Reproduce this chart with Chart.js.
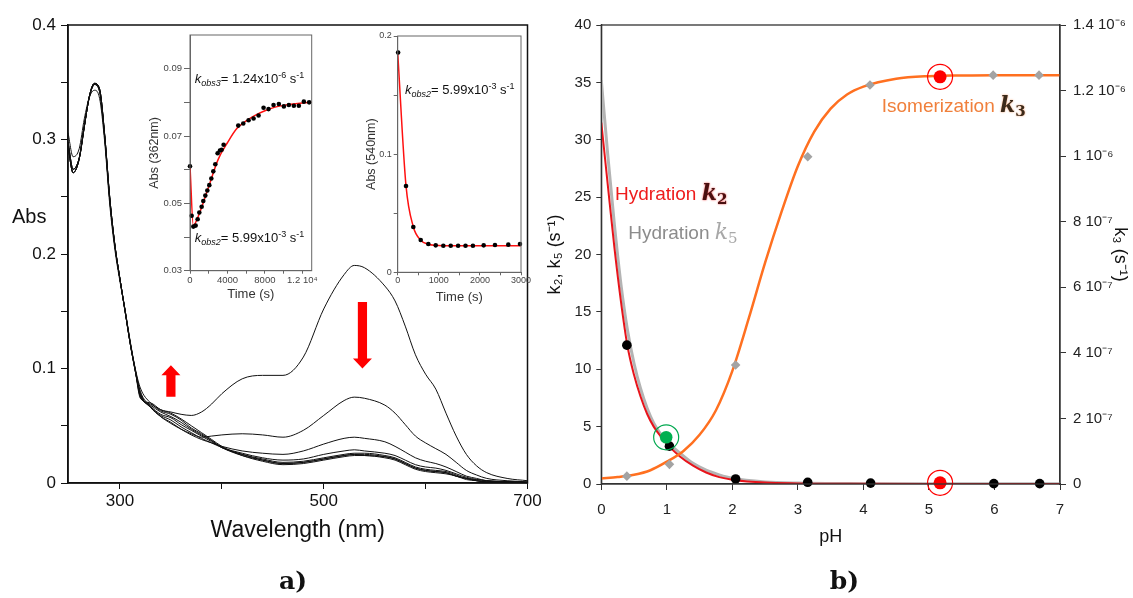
<!DOCTYPE html>
<html>
<head>
<meta charset="utf-8">
<script src="https://cdn.jsdelivr.net/npm/chart.js@4.4.1/dist/chart.umd.min.js"></script>
<style>
  body { margin: 0; background: #fff; width: 1133px; height: 598px; position: relative; overflow: hidden; }
  canvas { position: absolute; }
</style>
</head>
<body>
<canvas id="spectra" width="560" height="598" style="left:0px;top:0px"></canvas>
<canvas id="inset362" width="190" height="290" style="left:140px;top:20px"></canvas>
<canvas id="inset540" width="200" height="290" style="left:340px;top:20px"></canvas>
<canvas id="phChart" width="593" height="598" style="left:540px;top:0px"></canvas>
<script>
'use strict';

// ---- a) spectra ----
var wavelengths = [249, 254, 260, 265, 270, 275, 280, 285, 290, 295, 300, 305, 310, 315,
  320, 330, 340, 350, 360, 370, 380, 390, 400, 420, 440, 460, 480, 500, 520, 530, 540,
  560, 570, 580, 590, 600, 610, 620, 630, 640, 650, 660, 680, 700];

// UV part (249-315 nm)
var uvA = [0.306, 0.285, 0.292, 0.318, 0.337, 0.343, 0.336, 0.298, 0.243, 0.204, 0.176, 0.151, 0.124, 0.100];
var uvB = [0.298, 0.274, 0.284, 0.312, 0.337, 0.348, 0.342, 0.302, 0.247, 0.207, 0.178, 0.151, 0.123, 0.099];
var uvC = [0.294, 0.271, 0.283, 0.311, 0.338, 0.349, 0.344, 0.304, 0.249, 0.208, 0.178, 0.150, 0.122, 0.098];

// visible part (320-700 nm)
var visA = [0.083, 0.070, 0.064, 0.062, 0.060, 0.059, 0.062, 0.069, 0.078, 0.091, 0.094, 0.094, 0.110, 0.152, 0.182, 0.190, 0.188, 0.172, 0.159, 0.137, 0.112, 0.095, 0.082, 0.061, 0.041, 0.025, 0.015, 0.009, 0.004, 0.002];
var visB = [0.080, 0.067, 0.058, 0.052, 0.047, 0.043, 0.040, 0.041, 0.042, 0.043, 0.042, 0.040, 0.046, 0.059, 0.072, 0.075, 0.074, 0.068, 0.061, 0.051, 0.041, 0.035, 0.030, 0.025, 0.018, 0.011, 0.007, 0.004, 0.002, 0.001];
var visC = [0.079, 0.066, 0.058, 0.053, 0.047, 0.042, 0.038, 0.035, 0.032, 0.028, 0.026, 0.025, 0.028, 0.034, 0.039, 0.040, 0.039, 0.036, 0.032, 0.027, 0.022, 0.019, 0.017, 0.014, 0.010, 0.006, 0.004, 0.002, 0.001, 0.0005];
var visD = [0.078, 0.066, 0.059, 0.055, 0.049, 0.044, 0.039, 0.035, 0.031, 0.026, 0.022, 0.020, 0.021, 0.025, 0.028, 0.029, 0.028, 0.026, 0.024, 0.020, 0.016, 0.014, 0.013, 0.011, 0.008, 0.005, 0.003, 0.002, 0.001, 0.0005];
var visE = [0.077, 0.067, 0.060, 0.057, 0.051, 0.046, 0.041, 0.036, 0.031, 0.025, 0.021, 0.018, 0.019, 0.022, 0.025, 0.026, 0.026, 0.024, 0.022, 0.018, 0.014, 0.012, 0.011, 0.010, 0.007, 0.004, 0.003, 0.002, 0.001, 0.0005];
var visF = [0.076, 0.068, 0.062, 0.058, 0.053, 0.047, 0.042, 0.037, 0.031, 0.025, 0.020, 0.017, 0.018, 0.021, 0.024, 0.025, 0.025, 0.023, 0.021, 0.017, 0.013, 0.011, 0.010, 0.009, 0.006, 0.004, 0.002, 0.001, 0.001, 0.0005];
var visG = [0.075, 0.069, 0.063, 0.060, 0.055, 0.048, 0.043, 0.037, 0.031, 0.024, 0.020, 0.017, 0.018, 0.021, 0.024, 0.025, 0.024, 0.023, 0.021, 0.017, 0.013, 0.011, 0.010, 0.009, 0.006, 0.004, 0.002, 0.001, 0.001, 0.0005];
var visH = [0.074, 0.070, 0.064, 0.061, 0.056, 0.050, 0.044, 0.038, 0.032, 0.024, 0.019, 0.016, 0.017, 0.020, 0.023, 0.024, 0.024, 0.022, 0.020, 0.016, 0.012, 0.010, 0.009, 0.008, 0.006, 0.003, 0.002, 0.001, 0.001, 0.0005];

var spectra = [uvA.concat(visA), uvB.concat(visB), uvB.concat(visC), uvC.concat(visD),
  uvC.concat(visE), uvC.concat(visF), uvB.concat(visG), uvC.concat(visH)];

var wlTicks = [300, 400, 500, 600, 700];
var absTicks = [0, 0.05, 0.1, 0.15, 0.2, 0.25, 0.3, 0.35, 0.4];

// ---- insets ----
var t362 = [0, 178, 356, 604, 818, 996, 1244, 1422, 1636, 1849, 2062, 2276, 2489, 2702, 2951, 3200, 3378, 3591,
  5156, 5689, 6258, 6791, 7324, 7858, 8391, 8924, 9493, 10027, 10560, 11093, 11627, 12160, 12729];
var a362 = [0.0610, 0.0463, 0.0431, 0.0434, 0.0453, 0.0473, 0.0490, 0.0507, 0.0523, 0.0538, 0.0554, 0.0574, 0.0595,
  0.0616, 0.0649, 0.0657, 0.0659, 0.0674, 0.0731, 0.0737, 0.0747, 0.0752, 0.0761, 0.0784, 0.0780, 0.0792, 0.0795,
  0.0788, 0.0792, 0.0790, 0.0790, 0.0802, 0.0800];
var t362Fit = [0, 350, 1000, 2000, 3000, 4000, 5000, 6000, 7000, 8000, 9000, 10000, 11000, 12000, 13000];
var a362Fit = [0.0610, 0.0435, 0.0470, 0.0550, 0.0630, 0.0680, 0.0722, 0.0745, 0.0762, 0.0775, 0.0785, 0.0791, 0.0795, 0.0798, 0.0800];

var t540 = [10, 202, 380, 560, 745, 925, 1110, 1290, 1470, 1650, 1830, 2092, 2367, 2691, 2975];
var a540 = [0.186, 0.073, 0.0383, 0.0273, 0.0240, 0.0228, 0.0225, 0.0225, 0.0225, 0.0225, 0.0225, 0.0228, 0.0231, 0.0234, 0.0240];
var t540Fit = [0, 200, 380, 560, 745, 925, 1110, 1500, 2000, 2500, 3000];
var a540Fit = [0.186, 0.074, 0.0385, 0.0272, 0.0238, 0.0228, 0.0225, 0.0224, 0.0224, 0.0224, 0.0224];

// ---- b) pH dependence ----
var pHFit = [0, 0.1, 0.2, 0.3, 0.4, 0.5, 0.6, 0.7, 0.8, 0.9, 1.0, 1.2, 1.4, 1.6, 1.8, 2.0, 2.5, 3.0, 4.0, 5.0, 6.0, 7.0];
var k2Fit = [31.5, 26.0, 20.6, 15.9, 12.0, 9.5, 7.6, 6.1, 5.0, 4.2, 3.5, 2.4, 1.6, 1.0, 0.6, 0.38, 0.12, 0.05, 0.02, 0.01, 0.01, 0.01];
var k5Fit = [35.2, 28.6, 22.6, 17.4, 13.4, 10.5, 8.3, 6.6, 5.3, 4.4, 3.7, 2.7, 1.8, 1.2, 0.8, 0.5, 0.18, 0.08, 0.03, 0.02, 0.02, 0.02];
var pHFitK3 = [0, 0.25, 0.5, 0.75, 1, 1.25, 1.5, 1.75, 2, 2.25, 2.5, 2.75, 3, 3.25, 3.5, 3.75, 4, 4.5, 5, 5.5, 6, 7];
var k3Fit = [0.17e-7, 0.21e-7, 0.28e-7, 0.42e-7, 0.68e-7, 1.00e-7, 1.50e-7, 2.25e-7, 3.45e-7, 5.05e-7, 6.75e-7, 8.30e-7,
  9.70e-7, 10.75e-7, 11.45e-7, 11.88e-7, 12.12e-7, 12.36e-7, 12.44e-7, 12.46e-7, 12.47e-7, 12.47e-7];

var pHK2 = [0.39, 1.04, 2.05, 3.15, 4.11, 5.99, 6.69];
var k2Data = [12.1, 3.3, 0.44, 0.15, 0.08, 0.03, 0.03];
var pHK3 = [0.39, 1.04, 2.05, 3.15, 4.10, 5.98, 6.68];
var k3Data = [0.24e-7, 0.60e-7, 3.63e-7, 9.98e-7, 12.17e-7, 12.47e-7, 12.47e-7];
var greenPoint = [{x: 0.99, y: 4.07}];
var redPointK2 = [{x: 5.17, y: 0.1}];
var redPointK3 = [{x: 5.17, y: 12.42e-7}];

var pHTicks = [0, 1, 2, 3, 4, 5, 6, 7];
var kTicks = [0, 5, 10, 15, 20, 25, 30, 35, 40];
var k3Ticks = [0, 2e-7, 4e-7, 6e-7, 8e-7, 10e-7, 12e-7, 14e-7];
var k3TickLabels = ['0', '2 10\u207B\u2077', '4 10\u207B\u2077', '6 10\u207B\u2077', '8 10\u207B\u2077',
  '1 10\u207B\u2076', '1.2 10\u207B\u2076', '1.4 10\u207B\u2076'];

// ---- common setup ----
var SANS = "'Liberation Sans', Arial, sans-serif";
var SERIF = "'DejaVu Serif', serif";
Chart.defaults.font.family = SANS;
Chart.defaults.color = '#111';
Chart.defaults.animation = false;
Chart.defaults.events = [];
Chart.defaults.plugins.legend.display = false;
Chart.defaults.plugins.tooltip.enabled = false;

var toPoints = function(xs, ys) {
  return xs.map(function(x, i) { return {x: x, y: ys[i]}; });
};
var fixedTicks = function(list) {
  return function(scale) { scale.ticks = list.map(function(v) { return {value: v}; }); };
};
var fixedSize = function(size) {
  return function(scale) {
    if (scale.isHorizontal()) { scale.height = size; } else { scale.width = size; }
  };
};
var framePlugin = function(color, width) {
  return {
    id: 'frame',
    afterDatasetsDraw: function(chart) {
      var a = chart.chartArea, ctx = chart.ctx;
      ctx.save();
      ctx.strokeStyle = color;
      ctx.lineWidth = width;
      ctx.strokeRect(a.left, a.top, a.right - a.left, a.bottom - a.top);
      ctx.restore();
    }
  };
};
// draw a line of text made of runs with their own font / offset
var drawRuns = function(ctx, x, y, runs) {
  ctx.save();
  ctx.textAlign = 'left';
  ctx.textBaseline = 'alphabetic';
  runs.forEach(function(r) {
    ctx.font = r.f;
    ctx.fillStyle = r.c;
    if (r.glow) { ctx.shadowColor = r.glow; ctx.shadowBlur = 2; } else { ctx.shadowBlur = 0; ctx.shadowColor = 'rgba(0,0,0,0)'; }
    ctx.fillText(r.t, x, y + (r.dy || 0));
    x += ctx.measureText(r.t).width;
  });
  ctx.restore();
};
var kobsRuns = function(sub, value, exp) {
  var big = '13px ' + SANS, small = '9px ' + SANS;
  return [
    {t: 'k', f: 'italic ' + big, c: '#111'},
    {t: sub, f: 'italic ' + small, c: '#111', dy: 3},
    {t: '= ' + value, f: big, c: '#111'},
    {t: exp, f: small, c: '#111', dy: -5},
    {t: ' s', f: big, c: '#111'},
    {t: '-1', f: small, c: '#111', dy: -5}
  ];
};

// ---- a) main spectra chart ----
var arrowUp = {nm: 350, from: 0.0754, to: 0.1028};
var arrowDown = {nm: 538, from: 0.158, to: 0.100};
var drawArrow = function(ctx, x, yFrom, yTo) {
  var dir = yTo > yFrom ? 1 : -1, head = 10, sw = 4.6, hw = 9.5, yb = yTo - dir * head;
  ctx.beginPath();
  ctx.moveTo(x - sw, yFrom); ctx.lineTo(x + sw, yFrom); ctx.lineTo(x + sw, yb);
  ctx.lineTo(x + hw, yb); ctx.lineTo(x, yTo); ctx.lineTo(x - hw, yb); ctx.lineTo(x - sw, yb);
  ctx.closePath();
  ctx.fillStyle = '#ff0000';
  ctx.fill();
};

new Chart(document.getElementById('spectra'), {
  type: 'line',
  data: {
    datasets: spectra.map(function(s) {
      return {data: toPoints(wavelengths, s), borderColor: '#111', borderWidth: 1, pointRadius: 0,
        cubicInterpolationMode: 'monotone', fill: false};
    })
  },
  options: {
    responsive: false,
    layout: {padding: {left: 0, top: 25, right: 32.5, bottom: 54}},
    scales: {
      x: {
        type: 'linear', min: 249, max: 700,
        afterBuildTicks: fixedTicks(wlTicks),
        afterFit: fixedSize(61),
        ticks: {autoSkip: false, maxRotation: 0, padding: 2, color: '#111', font: {size: 17},
          callback: function(v) { return v % 200 === 100 ? String(v) : ''; }},
        grid: {drawOnChartArea: false, tickLength: 6, color: '#111'},
        border: {color: '#111', width: 1.5},
        title: {display: true, text: 'Wavelength (nm)', color: '#111', font: {size: 23}, padding: {top: 0, bottom: 0}}
      },
      y: {
        min: 0, max: 0.4,
        afterBuildTicks: fixedTicks(absTicks),
        afterFit: fixedSize(68),
        ticks: {autoSkip: false, padding: 5, color: '#111', font: {size: 17},
          callback: function(v) { return Math.round(v * 100) % 10 === 0 ? String(+v.toFixed(1)) : ''; }},
        grid: {drawOnChartArea: false, tickLength: 7, color: '#111'},
        border: {color: '#111', width: 1.5}
      }
    }
  },
  plugins: [framePlugin('#111', 1.5), {
    id: 'spectraNotes',
    afterDraw: function(chart) {
      var ctx = chart.ctx, xs = chart.scales.x, ys = chart.scales.y;
      [arrowUp, arrowDown].forEach(function(a) {
        drawArrow(ctx, xs.getPixelForValue(a.nm), ys.getPixelForValue(a.from), ys.getPixelForValue(a.to));
      });
      ctx.save();
      ctx.fillStyle = '#111';
      ctx.textBaseline = 'middle';
      ctx.textAlign = 'left';
      ctx.font = '20px ' + SANS;
      ctx.fillText('Abs', 12, ys.getPixelForValue(0.2315));
      ctx.textAlign = 'center';
      ctx.font = 'bold 25px ' + SERIF;
      ctx.fillText('a)', 293, 582);
      ctx.restore();
    }
  }]
});

// ---- insets ----
var insetOptions = function(cfg) {
  return {
    responsive: false,
    layout: {padding: cfg.padding},
    scales: {
      x: {
        type: 'linear', min: 0, max: cfg.xMax,
        afterBuildTicks: fixedTicks(cfg.xTicks),
        afterFit: fixedSize(cfg.xHeight),
        ticks: {autoSkip: false, maxRotation: 0, padding: cfg.xPad, color: '#444', font: {size: cfg.tickSize},
          callback: cfg.xLabel},
        grid: {drawOnChartArea: false, tickLength: 3, color: '#666'},
        border: {color: '#666'},
        title: {display: true, text: 'Time (s)', color: '#333', font: {size: 13}, padding: {top: 0, bottom: 0}}
      },
      y: {
        min: cfg.yMin, max: cfg.yMax,
        afterBuildTicks: fixedTicks(cfg.yTicks),
        afterFit: fixedSize(cfg.yWidth),
        ticks: {autoSkip: false, padding: cfg.yPad, color: '#444', font: {size: cfg.tickSize},
          callback: cfg.yLabel},
        grid: {drawOnChartArea: false, tickLength: cfg.yTickLen, color: '#666'},
        border: {color: '#666'},
        title: {display: true, text: cfg.yTitle, color: '#333', font: {size: 12.5}, padding: {top: 7, bottom: 0}}
      }
    }
  };
};

new Chart(document.getElementById('inset362'), {
  type: 'line',
  data: {
    datasets: [
      {data: toPoints(t362, a362), showLine: false, pointRadius: 2.3, pointBackgroundColor: '#000',
        pointBorderWidth: 0, clip: false, order: 0},
      {data: toPoints(t362Fit, a362Fit), borderColor: '#ff1010', borderWidth: 1.5, pointRadius: 0,
        cubicInterpolationMode: 'monotone', order: 1}
    ]
  },
  options: insetOptions({
    padding: {left: 0, top: 15, right: 18.3, bottom: 7.3},
    xMax: 13000, xTicks: [0, 2000, 4000, 6000, 8000, 10000, 12000], xHeight: 32, xPad: 1, tickSize: 9.5,
    xLabel: function(v) { return v === 12000 ? '1.2 10\u2074' : (v % 4000 === 0 ? String(v) : ''); },
    yMin: 0.03, yMax: 0.1, yTicks: [0.03, 0.04, 0.05, 0.06, 0.07, 0.08, 0.09], yWidth: 50, yPad: 2, yTickLen: 6,
    yLabel: function(v) { return Math.round(v * 100) % 2 === 1 ? v.toFixed(2) : ''; },
    yTitle: 'Abs (362nm)'
  }),
  plugins: [framePlugin('#666', 1), {
    id: 'kobs362',
    afterDraw: function(chart) {
      var xs = chart.scales.x, ys = chart.scales.y;
      drawRuns(chart.ctx, xs.getPixelForValue(500), ys.getPixelForValue(0.0868) + 4, kobsRuns('obs3', '1.24x10', '-6'));
      drawRuns(chart.ctx, xs.getPixelForValue(500), ys.getPixelForValue(0.0397) + 4, kobsRuns('obs2', '5.99x10', '-3'));
    }
  }]
});

new Chart(document.getElementById('inset540'), {
  type: 'line',
  data: {
    datasets: [
      {data: toPoints(t540, a540), showLine: false, pointRadius: 2.3, pointBackgroundColor: '#000',
        pointBorderWidth: 0, clip: false, order: 0},
      {data: toPoints(t540Fit, a540Fit), borderColor: '#ff1010', borderWidth: 1.5, pointRadius: 0,
        cubicInterpolationMode: 'monotone', order: 1}
    ]
  },
  options: insetOptions({
    padding: {left: 17, top: 16, right: 19, bottom: 5.2},
    xMax: 3000, xTicks: [0, 500, 1000, 1500, 2000, 2500, 3000], xHeight: 32.5, xPad: 0, tickSize: 9,
    xLabel: function(v) { return v % 1000 === 0 ? String(v) : ''; },
    yMin: 0, yMax: 0.2, yTicks: [0, 0.05, 0.1, 0.15, 0.2], yWidth: 40.7, yPad: 2, yTickLen: 4,
    yLabel: function(v) { return Math.round(v * 100) % 10 === 0 ? String(+v.toFixed(1)) : ''; },
    yTitle: 'Abs (540nm)'
  }),
  plugins: [framePlugin('#666', 1), {
    id: 'kobs540',
    afterDraw: function(chart) {
      var xs = chart.scales.x, ys = chart.scales.y;
      drawRuns(chart.ctx, xs.getPixelForValue(178), ys.getPixelForValue(0.154) + 4, kobsRuns('obs2', '5.99x10', '-3'));
    }
  }]
});

// ---- b) pH chart ----
var pointSet = function(points, axis, radius, fill, stroke, width, order) {
  return {data: points, yAxisID: axis, showLine: false, pointRadius: radius, pointBackgroundColor: fill,
    pointBorderColor: stroke, pointBorderWidth: width, clip: false, order: order};
};
var fitSet = function(xs, ys, axis, color, width, order) {
  return {data: toPoints(xs, ys), yAxisID: axis, borderColor: color, borderWidth: width, pointRadius: 0,
    cubicInterpolationMode: 'monotone', fill: false, order: order};
};

var diamondSet = pointSet(toPoints(pHK3, k3Data), 'y2', 4.8, '#a3a3a3', '#a3a3a3', 0, 3);
diamondSet.pointStyle = 'rectRot';

new Chart(document.getElementById('phChart'), {
  type: 'line',
  data: {
    datasets: [
      fitSet(pHFit, k5Fit, 'y', '#b4b4b4', 3, 7),
      fitSet(pHFit, k2Fit, 'y', '#e8141b', 2, 6),
      fitSet(pHFitK3, k3Fit, 'y2', '#ff7020', 2.5, 5),
      diamondSet,
      pointSet(toPoints(pHK2, k2Data), 'y', 4.8, '#000', '#000', 0, 2),
      pointSet(greenPoint, 'y', 6.3, '#00b050', '#00b050', 0, 1),
      pointSet(greenPoint, 'y', 12.5, 'rgba(0,0,0,0)', '#00a84f', 1.2, 0),
      pointSet(redPointK2, 'y', 6.5, '#ff0000', '#ff0000', 0, 1),
      pointSet(redPointK2, 'y', 12.5, 'rgba(0,0,0,0)', '#ff0000', 1.2, 0),
      pointSet(redPointK3, 'y2', 6.5, '#ff0000', '#ff0000', 0, 1),
      pointSet(redPointK3, 'y2', 12.5, 'rgba(0,0,0,0)', '#ff0000', 1.2, 0)
    ]
  },
  options: {
    responsive: false,
    layout: {padding: {left: 0, top: 25, right: 0, bottom: 50}},
    scales: {
      x: {
        type: 'linear', min: 0, max: 7,
        afterBuildTicks: fixedTicks(pHTicks),
        afterFit: fixedSize(64),
        ticks: {autoSkip: false, maxRotation: 0, padding: 11, color: '#222', font: {size: 15}},
        grid: {drawOnChartArea: false, tickLength: 6, color: '#333'},
        border: {color: '#333', width: 1.3},
        title: {display: true, text: 'pH', color: '#111', font: {size: 18}, padding: {top: 0, bottom: 0}}
      },
      y: {
        position: 'left', min: 0, max: 40,
        afterBuildTicks: fixedTicks(kTicks),
        afterFit: fixedSize(61.3),
        ticks: {autoSkip: false, padding: 5, color: '#222', font: {size: 15}},
        grid: {drawOnChartArea: false, tickLength: 5, color: '#333'},
        border: {color: '#333', width: 1.3},
        title: {display: true, text: 'k\u2082, k\u2085 (s\u207B\u00B9)', color: '#111', font: {size: 18}, padding: {top: 4, bottom: 0}}
      },
      y2: {
        position: 'right', min: 0, max: 14e-7,
        afterBuildTicks: fixedTicks(k3Ticks),
        afterFit: fixedSize(73),
        ticks: {autoSkip: false, padding: 7, color: '#222', font: {size: 15},
          callback: function(v, i) { return k3TickLabels[i]; }},
        grid: {drawOnChartArea: false, tickLength: 6, color: '#333'},
        border: {color: '#333', width: 1.3},
        title: {display: true, text: 'k\u2083 (s\u207B\u00B9)', color: '#111', font: {size: 18}, padding: {top: 2, bottom: 0}}
      }
    }
  },
  plugins: [framePlugin('#333', 1.3), {
    id: 'phNotes',
    afterDraw: function(chart) {
      var ctx = chart.ctx, xs = chart.scales.x, ys = chart.scales.y;
      var txt = '19px ' + SANS, kf = 'italic bold 22px ' + SERIF, sf = 'bold 15px ' + SERIF;
      drawRuns(ctx, xs.getPixelForValue(0.21), ys.getPixelForValue(25.4) + 7, [
        {t: 'Hydration ', f: txt, c: '#ee1c1c'},
        {t: 'k', f: kf, c: '#4a1010', glow: 'rgba(230,0,0,0.8)'},
        {t: '2', f: sf, c: '#4a1010', dy: 4, glow: 'rgba(230,0,0,0.8)'}
      ]);
      drawRuns(ctx, xs.getPixelForValue(0.41), ys.getPixelForValue(22.0) + 7, [
        {t: 'Hydration ', f: txt, c: '#8c8c8c'},
        {t: 'k', f: 'italic 22px ' + SERIF, c: '#a8a8a8'},
        {t: '5', f: '15px ' + SERIF, c: '#a8a8a8', dy: 4}
      ]);
      drawRuns(ctx, xs.getPixelForValue(4.28), ys.getPixelForValue(33.07) + 7, [
        {t: 'Isomerization ', f: txt, c: '#f0803c'},
        {t: 'k', f: kf, c: '#3b2a1a', glow: 'rgba(240,128,60,0.8)'},
        {t: '3', f: sf, c: '#3b2a1a', dy: 4, glow: 'rgba(240,128,60,0.8)'}
      ]);
      ctx.save();
      ctx.fillStyle = '#111';
      ctx.textAlign = 'center';
      ctx.textBaseline = 'middle';
      ctx.font = 'bold 25px ' + SERIF;
      ctx.fillText('b)', 304.5, 582);
      ctx.restore();
    }
  }]
});
</script>
</body>
</html>
